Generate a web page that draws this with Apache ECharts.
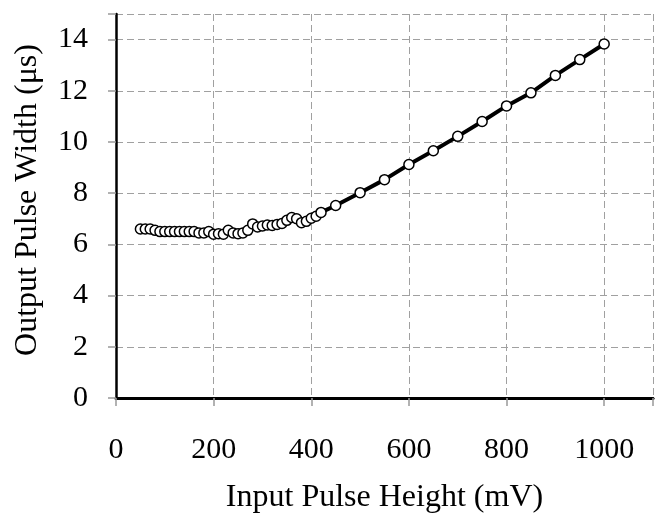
<!DOCTYPE html>
<html>
<head>
<meta charset="utf-8">
<script src="https://cdn.jsdelivr.net/npm/echarts@6/dist/echarts.min.js"></script>
<style>
  html, body { margin: 0; padding: 0; background: #fff; }
  #chart { width: 656px; height: 519px; }
</style>
</head>
<body>
<div id="chart"></div>
<script>
// Input pulse height (mV)
const inputHeight = [50, 60, 70, 80, 90, 100, 110, 120, 130, 140, 150, 160, 170, 180, 190, 200,
  210, 220, 230, 240, 250, 260, 270, 280, 290, 300, 310, 320, 330, 340, 350, 360, 370, 380, 390,
  400, 410, 420, 450, 500, 550, 600, 650, 700, 750, 800, 850, 900, 950, 1000];
// Output pulse width (µs)
const outputWidth = [6.6, 6.6, 6.6, 6.55, 6.5, 6.5, 6.5, 6.5, 6.5, 6.5, 6.5, 6.5, 6.45, 6.45, 6.5, 6.4,
  6.42, 6.4, 6.55, 6.45, 6.42, 6.45, 6.55, 6.8, 6.68, 6.72, 6.76, 6.74, 6.78, 6.82, 6.94, 7.05, 7.0, 6.85, 6.9,
  7.02, 7.1, 7.25, 7.52, 8.02, 8.53, 9.12, 9.66, 10.22, 10.8, 11.41, 11.92, 12.6, 13.22, 13.83];
const xTicks = [0, 200, 400, 600, 800, 1000];
const yTicks = [0, 2, 4, 6, 8, 10, 12, 14];

const font = 'Liberation Serif, Times New Roman, serif';
const chart = echarts.init(document.getElementById('chart'), null, { renderer: 'canvas' });
chart.setOption({
  animation: false,
  backgroundColor: '#fff',
  grid: { left: 116, top: 14, bottom: 119, right: -5, show: false },
  xAxis: [{
    type: 'value', min: 0, max: 1100, interval: 200,
    name: 'Input Pulse Height (mV)', nameLocation: 'middle', nameGap: 84,
    nameTextStyle: { fontFamily: font, fontSize: 32, color: '#000' },
    axisLine: { show: true, onZero: false, lineStyle: { color: '#000', width: 2.5 } },
    axisTick: { show: true, length: 8, lineStyle: { color: '#999', width: 1.5 } },
    axisLabel: { margin: 37, fontFamily: font, fontSize: 30, color: '#000',
      formatter: v => xTicks.includes(v) ? String(v) : '' },
    splitLine: { show: true, lineStyle: { color: '#a0a0a0', type: [7, 4], width: 1 } }
  }, {
    type: 'value', min: 0, max: 1100, position: 'top',
    axisLine: { show: true, lineStyle: { color: '#000', width: 3 } },
    axisTick: { show: false }, axisLabel: { show: false }, splitLine: { show: false }
  }],
  yAxis: {
    type: 'value', min: 0, max: 15, interval: 2,
    name: 'Output Pulse Width (μs)', nameLocation: 'middle', nameGap: 72,
    nameTextStyle: { fontFamily: font, fontSize: 32, color: '#000', padding: [0, 0, 0, 12] },
    axisLine: { show: true, onZero: false, lineStyle: { color: '#000', width: 2.5 } },
    axisTick: { show: true, length: 8, lineStyle: { color: '#999', width: 1.5 } },
    axisLabel: { margin: 28, fontFamily: font, fontSize: 30, color: '#000',
      formatter: v => yTicks.includes(v) ? String(v) : '' },
    splitLine: { show: true, lineStyle: { color: '#a0a0a0', type: [7, 4], width: 1 } }
  },
  series: [{
    type: 'line',
    data: inputHeight.map((x, i) => [x, outputWidth[i]]),
    symbol: 'circle', symbolSize: 10,
    lineStyle: { color: '#000', width: 4 },
    itemStyle: { color: '#fff', borderColor: '#000', borderWidth: 1.5 },
    z: 5
  }]
});
</script>
</body>
</html>
